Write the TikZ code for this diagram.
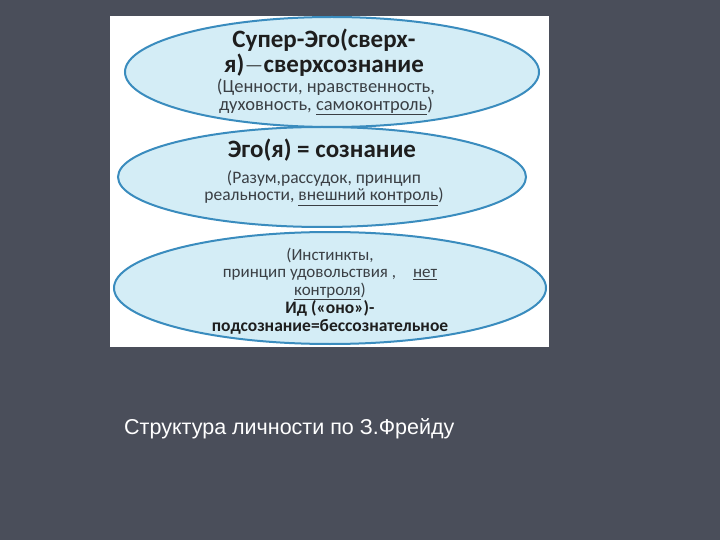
\documentclass[tikz,border=0pt]{standalone}
\usepackage{fontspec}
\setmainfont{Carlito}
\newfontfamily\capfont{Liberation Sans}
\usepackage{xcolor}
\usetikzlibrary{positioning}

\definecolor{slideBg}{HTML}{4A4E5A}
\definecolor{ovalFill}{HTML}{D4EDF6}
\definecolor{ovalRim}{HTML}{3A8CBE}
\definecolor{textDark}{HTML}{1E1E1E}
\definecolor{textSub}{HTML}{3A3F44}

\tikzset{
	oval/.style = {fill = ovalFill, draw = ovalRim, line width = 2pt},
	head/.style = {font = \fontsize{25}{25}\selectfont\bfseries, text = textDark, align = center, inner sep = 0pt},
	sub/.style = {font = \fontsize{18.5}{18}\selectfont, text = textSub, align = center, inner sep = 0pt},
}

\begin{document}
\begin{tikzpicture}[x = 1pt, y = -1pt]
		\useasboundingbox [fill = slideBg] (0, 0) rectangle (720, 540);
		\fill [white] (110, 16) rectangle (549, 347);

		% upper layer
		\coordinate (superC) at (332, 72);
		\draw [oval] (superC) ellipse [x radius = 207, y radius = 55];
		\node [head] (superHead) at (324, 53) {Супер-Эго(сверх-\\я)$-$сверхсознание};
		\node [sub] (superSub) at (326, 97) {(Ценности, нравственность,\\духовность, \underline{самоконтроль})};

		% middle layer
		\coordinate (egoC) at (322, 177);
		\draw [oval] (egoC) ellipse [x radius = 204, y radius = 50];
		\node [head] (egoHead) at (322, 150) {Эго(я) = сознание};
		\node [sub, font = \fontsize{17.5}{17.5}\selectfont] (egoSub) at (324, 188) {(Разум,рассудок, принцип\\реальности, \underline{внешний контроль})};

		% lower layer
		\coordinate (idC) at (330, 288);
		\draw [oval] (idC) ellipse [x radius = 216, y radius = 56];
		\node [sub, font = \fontsize{17}{17.5}\selectfont] (idSub) at (330, 274) {(Инстинкты,\\принцип удовольствия ,\quad\underline{нет}\\\underline{контроля})};
		\node [head, font = \fontsize{17.5}{18}\selectfont\bfseries] (idHead) at (330, 317) {Ид («оно»)-\\подсознание=бессознательное};

		\node [anchor = west, text = white, font = \capfont\fontsize{21.5}{24}\selectfont, inner sep = 0pt] (caption) at (124, 429) {Структура личности по З.Фрейду};
	\end{tikzpicture}
\end{document}
